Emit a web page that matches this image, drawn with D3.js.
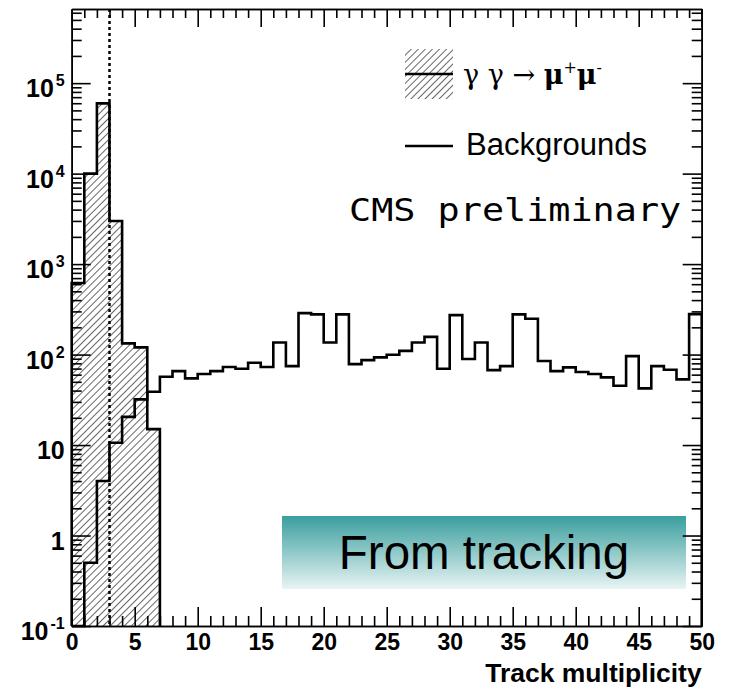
<!DOCTYPE html>
<html>
<head>
<meta charset="utf-8">
<script src="https://cdn.jsdelivr.net/npm/d3@7"></script>
<style>
  body { margin: 0; background: #fff; }
  svg { display: block; }
</style>
</head>
<body>
<div id="chart"></div>
<script>
// Bin contents (one value per unit bin of track multiplicity)
const binEdges = d3.range(0, 51);
const signal = [617, 10000, 59700, 3000, 133, 120, 15];
const background = [0, 0.5, 4, 10.6, 20.5, 32, 38.8, 56.9, 65.7, 54.6,
  60.9, 65.7, 72.8, 69.7, 81.2, 72.8, 136, 74.6, 287, 278,
  136, 278, 78.5, 86.9, 93.1, 99.5, 110, 136, 157, 69.7,
  273, 89.2, 136, 67.4, 74.6, 278, 249, 84.8, 65.7, 72.2,
  64.1, 60.9, 56, 45.3, 96.2, 42.3, 74.6, 67.9, 53.2, 280];
const xMajorTicks = [0, 5, 10, 15, 20, 25, 30, 35, 40, 45, 50];
const yDecades = [0.1, 1, 10, 100, 1000, 10000, 100000];
const yTickLabels = [["10", "-1"], ["1", ""], ["10", ""], ["10", "2"], ["10", "3"], ["10", "4"], ["10", "5"]];
const cutValue = 3;

// Frame geometry
const frame = { left: 71.7, right: 701.7, top: 9, bottom: 626 };
const yMin = 0.1, yMax = 6.6e5;

const svg = d3.select("#chart")
  .append("svg")
  .attr("width", 731)
  .attr("height", 690);

const x = d3.scaleLinear().domain([0, 50]).range([frame.left, frame.right]);
const y = d3.scaleLog().domain([yMin, yMax]).range([frame.bottom, frame.top]);

// Hatch pattern and gradient
const defs = svg.append("defs");
defs.append("pattern")
  .attr("id", "hatch")
  .attr("patternUnits", "userSpaceOnUse")
  .attr("width", 5)
  .attr("height", 5)
  .attr("patternTransform", "rotate(45)")
  .append("line")
  .attr("x1", 0).attr("y1", 0).attr("x2", 0).attr("y2", 5)
  .attr("stroke", "#000")
  .attr("stroke-width", 1.2);

const grad = defs.append("linearGradient")
  .attr("id", "boxGrad")
  .attr("x1", 0).attr("y1", 0).attr("x2", 0).attr("y2", 1);
grad.append("stop").attr("offset", "0%").attr("stop-color", "#3a9e9e");
grad.append("stop").attr("offset", "100%").attr("stop-color", "#e8f4f4");

// Step path: starts and ends on the frame bottom
function stepPoints(values) {
  const pts = [[0, yMin]];
  values.forEach((v, i) => pts.push([binEdges[i], Math.max(v, yMin)]));
  const last = Math.max(values[values.length - 1], yMin);
  pts.push([binEdges[values.length], last]);
  pts.push([binEdges[values.length], yMin]);
  return pts;
}
const step = d3.line()
  .x(d => x(d[0]))
  .y(d => y(d[1]))
  .curve(d3.curveStepAfter);

// Signal histogram (hatched)
svg.append("path")
  .attr("d", step(stepPoints(signal)))
  .attr("fill", "url(#hatch)")
  .attr("stroke", "#000")
  .attr("stroke-width", 2.6)
  .attr("stroke-linejoin", "miter");

// Background histogram
svg.append("path")
  .attr("d", step(stepPoints(background)))
  .attr("fill", "none")
  .attr("stroke", "#000")
  .attr("stroke-width", 2.6);

// Dotted cut line
svg.append("line")
  .attr("x1", x(cutValue)).attr("x2", x(cutValue))
  .attr("y1", y(yMax)).attr("y2", y(yMin))
  .attr("stroke", "#000")
  .attr("stroke-width", 2.5)
  .attr("stroke-dasharray", "3,3");

// "From tracking" box
svg.append("rect")
  .attr("x", 282).attr("y", 516)
  .attr("width", 404).attr("height", 73)
  .attr("fill", "url(#boxGrad)");
svg.append("text")
  .attr("x", 484).attr("y", 569)
  .attr("text-anchor", "middle")
  .attr("font-family", "Liberation Sans, Arial, sans-serif")
  .attr("font-size", 47.5)
  .attr("fill", "#000")
  .text("From tracking");

// Axes: ticks point into the frame
const xMinor = binEdges.filter(d => d % 5 !== 0);
const yMinor = [];
yDecades.forEach(d => d3.range(2, 10).forEach(k => { if (k * d < yMax) yMinor.push(k * d); }));

function styleAxis(g) {
  g.selectAll("path.domain").attr("stroke", "#000").attr("stroke-width", 1.6);
  g.selectAll(".tick line").attr("stroke", "#000").attr("stroke-width", 1.6);
}

// bottom
svg.append("g")
  .attr("transform", `translate(0,${frame.bottom})`)
  .call(d3.axisBottom(x).tickValues(xMinor).tickSizeInner(-10).tickSizeOuter(0).tickFormat(""))
  .call(styleAxis);
const xAxisG = svg.append("g")
  .attr("transform", `translate(0,${frame.bottom})`)
  .call(d3.axisBottom(x).tickValues(xMajorTicks).tickSizeInner(-19).tickSizeOuter(0).tickPadding(8))
  .call(styleAxis);
xAxisG.selectAll(".tick text")
  .attr("font-family", "Liberation Sans, Arial, sans-serif")
  .attr("font-weight", "bold")
  .attr("font-size", 23)
  .attr("fill", "#000");

// top
svg.append("g")
  .attr("transform", `translate(0,${frame.top})`)
  .call(d3.axisTop(x).tickValues(xMinor).tickSizeInner(-9).tickSizeOuter(0).tickFormat(""))
  .call(styleAxis);
svg.append("g")
  .attr("transform", `translate(0,${frame.top})`)
  .call(d3.axisTop(x).tickValues(xMajorTicks).tickSizeInner(-18).tickSizeOuter(0).tickFormat(""))
  .call(styleAxis);

// left
svg.append("g")
  .attr("transform", `translate(${frame.left},0)`)
  .call(d3.axisLeft(y).tickValues(yMinor).tickSizeInner(-10).tickSizeOuter(0).tickFormat(""))
  .call(styleAxis);
const yAxisG = svg.append("g")
  .attr("transform", `translate(${frame.left},0)`)
  .call(d3.axisLeft(y).tickValues(yDecades).tickSizeInner(-19).tickSizeOuter(0).tickPadding(7).tickFormat(""))
  .call(styleAxis);
yAxisG.selectAll(".tick text").each(function (d, i) {
  const t = d3.select(this)
    .attr("font-family", "Liberation Sans, Arial, sans-serif")
    .attr("font-weight", "bold")
    .attr("font-size", 25)
    .attr("fill", "#000")
    .attr("dy", "0.55em");
  const [base, exp] = yTickLabels[i];
  t.append("tspan").text(base);
  if (exp) t.append("tspan").attr("dx", 2).attr("dy", -11).attr("font-size", 16).text(exp);
});

// right
svg.append("g")
  .attr("transform", `translate(${frame.right},0)`)
  .call(d3.axisRight(y).tickValues(yMinor).tickSizeInner(-10).tickSizeOuter(0).tickFormat(""))
  .call(styleAxis);
svg.append("g")
  .attr("transform", `translate(${frame.right},0)`)
  .call(d3.axisRight(y).tickValues(yDecades).tickSizeInner(-19).tickSizeOuter(0).tickFormat(""))
  .call(styleAxis);

// Axis title
svg.append("text")
  .attr("x", frame.right).attr("y", 682)
  .attr("text-anchor", "end")
  .attr("font-family", "Liberation Sans, Arial, sans-serif")
  .attr("font-weight", "bold")
  .attr("font-size", 26.5)
  .text("Track multiplicity");

// Legend
const legend = svg.append("g");
legend.append("rect")
  .attr("x", 405).attr("y", 49).attr("width", 48).attr("height", 50)
  .attr("fill", "url(#hatch)");
legend.append("line")
  .attr("x1", 405).attr("x2", 453).attr("y1", 74).attr("y2", 74)
  .attr("stroke", "#000").attr("stroke-width", 2.6);
const sigLabel = legend.append("text")
  .attr("x", 463).attr("y", 84)
  .attr("font-family", "DejaVu Serif, Liberation Serif, serif")
  .attr("font-size", 27)
  .attr("fill", "#000");
sigLabel.append("tspan").text("γ γ → ");
sigLabel.append("tspan").attr("font-weight", "bold").text("μ");
sigLabel.append("tspan").attr("dy", -11).attr("font-size", 16).text("+");
sigLabel.append("tspan").attr("dy", 11).attr("font-weight", "bold").text("μ");
sigLabel.append("tspan").attr("dy", -11).attr("font-size", 16).text("-");

legend.append("line")
  .attr("x1", 405).attr("x2", 453).attr("y1", 146).attr("y2", 146)
  .attr("stroke", "#000").attr("stroke-width", 2.6);
legend.append("text")
  .attr("x", 466).attr("y", 155)
  .attr("font-family", "Liberation Sans, Arial, sans-serif")
  .attr("font-size", 31)
  .attr("fill", "#000")
  .text("Backgrounds");

svg.append("text")
  .attr("transform", "translate(349,221) scale(1.15,1)")
  .attr("font-family", "DejaVu Sans Mono, monospace")
  .attr("font-size", 32)
  .attr("fill", "#000")
  .text("CMS preliminary");
</script>
</body>
</html>
